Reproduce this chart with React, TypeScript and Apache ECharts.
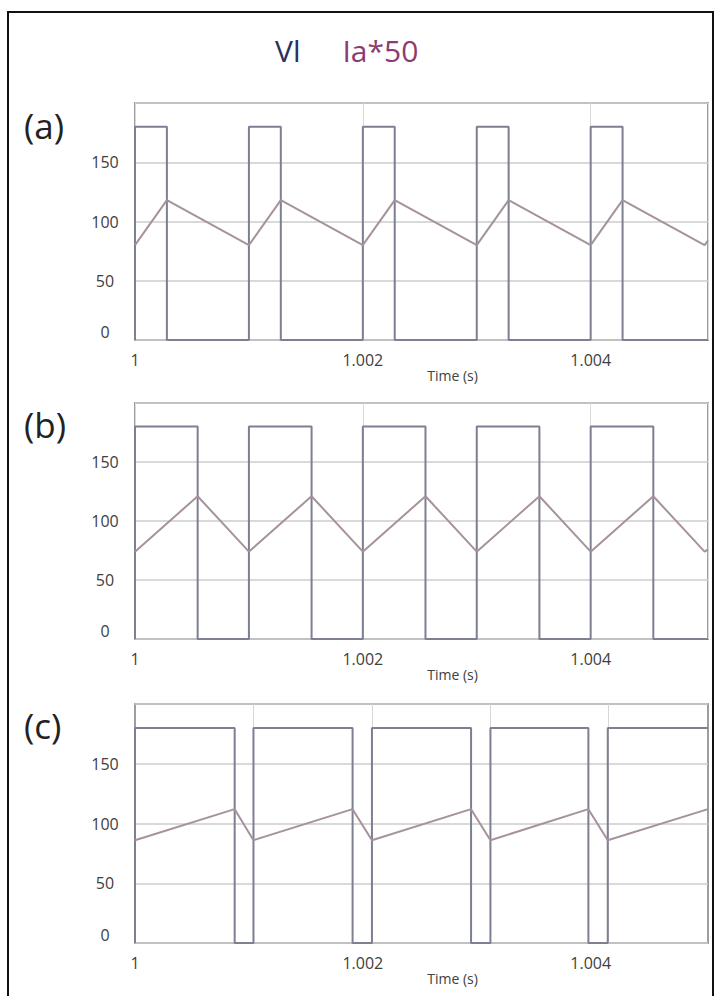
import React, { useEffect, useRef } from "react";
import * as echarts from "echarts";

// ---- Data (times in ms after t = 1 s) ----
const T_END = 5.03;
const VL_HIGH = 180;

// Panel (a)
const A_RISE = [0, 1, 2, 3, 4];
const A_FALL = [0.28, 1.28, 2.28, 3.28, 4.28];
const A_IA_T = [0, 0.28, 1, 1.28, 2, 2.28, 3, 3.28, 4, 4.28, 5, 5.03];
const A_IA_V = [80, 118, 80, 118, 80, 118, 80, 118, 80, 118, 80, 84];

// Panel (b)
const B_RISE = [0, 1, 2, 3, 4];
const B_FALL = [0.55, 1.55, 2.55, 3.55, 4.55];
const B_IA_T = [0, 0.55, 1, 1.55, 2, 2.55, 3, 3.55, 4, 4.55, 5, 5.03];
const B_IA_V = [74, 121, 74, 121, 74, 121, 74, 121, 74, 121, 74, 76];

// Panel (c)
const C_RISE = [0, 1.04, 2.08, 3.12, 4.15];
const C_FALL = [0.875, 1.91, 2.95, 3.98];
const C_IA_T = [0, 0.875, 1.04, 1.91, 2.08, 2.95, 3.12, 3.98, 4.15, 5.03];
const C_IA_V = [86, 112, 86, 112, 86, 112, 86, 112, 86, 112];

const Y_TICKS = [0, 50, 100, 150];
const X_TICK_LABELS: Record<number, string> = { 0: "1", 2: "1.002", 4: "1.004" };
const PANEL_LABELS = ["(a)", "(b)", "(c)"];
const SERIES_NAMES = ["Vl", "Ia*50"];

function squareWave(rises: number[], falls: number[], high: number, end: number) {
  const pts: number[][] = [];
  rises.forEach((r, i) => {
    pts.push([r, 0], [r, high]);
    if (i < falls.length) {
      pts.push([falls[i], high], [falls[i], 0]);
    } else {
      pts.push([end, high]);
    }
  });
  if (falls.length >= rises.length) pts.push([end, 0]);
  return pts;
}

function zip(t: number[], v: number[]) {
  return t.map((x, i) => [x, v[i]]);
}

const FONT = "Open Sans";
const VL_COLOR = "#7d7f93";
const IA_COLOR = "#a6929d";

export default function App() {
  const ref = useRef<HTMLDivElement>(null);

  useEffect(() => {
    if (!ref.current) return;
    const chart = echarts.init(ref.current, null, { renderer: "svg" });

    const grids = [
      { top: 103, height: 237 },
      { top: 403, height: 236 },
      { top: 704, height: 239 },
    ];

    const panels = [
      { vl: squareWave(A_RISE, A_FALL, VL_HIGH, T_END), ia: zip(A_IA_T, A_IA_V) },
      { vl: squareWave(B_RISE, B_FALL, VL_HIGH, T_END), ia: zip(B_IA_T, B_IA_V) },
      { vl: squareWave(C_RISE, C_FALL, VL_HIGH, T_END), ia: zip(C_IA_T, C_IA_V) },
    ];

    const series: any[] = [];
    panels.forEach((p, i) => {
      const vlSeries: any = {
        name: SERIES_NAMES[0],
        type: "line",
        xAxisIndex: i,
        yAxisIndex: i,
        data: p.vl,
        showSymbol: false,
        symbol: "none",
        lineStyle: { color: VL_COLOR, width: 2 },
        itemStyle: { color: VL_COLOR },
        z: 3,
      };
      if (i === 2) {
        vlSeries.markLine = {
          silent: true,
          symbol: "none",
          label: { show: false },
          lineStyle: { color: "#d6d6d6", width: 1, type: "solid" },
          data: C_RISE.slice(1).map((x) => ({ xAxis: x })),
          z: 1,
        };
      }
      series.push(vlSeries);
      series.push({
        name: SERIES_NAMES[1],
        type: "line",
        xAxisIndex: i,
        yAxisIndex: i,
        data: p.ia,
        showSymbol: false,
        symbol: "none",
        lineStyle: { color: IA_COLOR, width: 2 },
        itemStyle: { color: IA_COLOR },
        z: 4,
      });
    });

    const option: any = {
      animation: false,
      backgroundColor: "#ffffff",
      textStyle: { fontFamily: FONT },
      legend: {
        data: [
          { name: SERIES_NAMES[0], textStyle: { color: "#2e3060" } },
          { name: SERIES_NAMES[1], textStyle: { color: "#8c3b6e" } },
        ],
        left: 264,
        top: 30,
        itemWidth: 0,
        itemHeight: 0,
        itemGap: 36,
        selectedMode: false,
        textStyle: { fontSize: 30, fontFamily: FONT },
      },
      grid: grids.map((g) => ({
        left: 135,
        width: 573,
        top: g.top,
        height: g.height,
        show: true,
        borderColor: "#9e9e9e",
        borderWidth: 2,
        backgroundColor: "#ffffff",
      })),
      xAxis: grids.map((_, i) => ({
        type: "value",
        gridIndex: i,
        min: 0,
        max: T_END,
        interval: 2,
        axisLine: { show: false },
        axisTick: { show: false },
        splitLine: { show: i < 2, lineStyle: { color: "#dadada", width: 1 } },
        axisLabel: {
          margin: 12,
          fontSize: 16,
          color: "#404040",
          fontFamily: FONT,
          formatter: (v: number) => X_TICK_LABELS[Math.round(v)] ?? "",
        },
        name: "Time (s)",
        nameLocation: "middle",
        nameGap: 25,
        nameTextStyle: {
          fontSize: 14,
          color: "#404040",
          fontFamily: FONT,
          padding: [0, 0, 0, 62],
        },
      })),
      yAxis: grids.map((_, i) => ({
        type: "value",
        gridIndex: i,
        min: 0,
        max: 200,
        interval: 50,
        axisLine: { show: false },
        axisTick: { show: false },
        splitLine: { lineStyle: { color: "#cccccc", width: 1.5 } },
        axisLabel: {
          margin: 30,
          align: "center",
          fontSize: 16,
          color: "#404040",
          fontFamily: FONT,
          formatter: (v: number) =>
            Y_TICKS.indexOf(v) < 0 ? "" : v === 0 ? "{z|0}" : String(v),
          rich: {
            z: { padding: [0, 0, 16, 0], fontSize: 16, color: "#404040", fontFamily: FONT },
          },
        },
      })),
      series,
      graphic: [
        {
          type: "rect",
          shape: { x: 8, y: 12, width: 705, height: 1000 },
          style: { fill: "none", stroke: "#111111", lineWidth: 2 },
          silent: true,
          z: 100,
        },
        ...PANEL_LABELS.map((t, i) => ({
          type: "text",
          left: 24,
          top: [108, 407, 708][i],
          style: { text: t, fontSize: 35, fill: "#222222", fontFamily: FONT },
          silent: true,
        })),
      ],
    };

    chart.setOption(option);
    return () => chart.dispose();
  }, []);

  return (
    <div
      ref={ref}
      style={{ position: "absolute", left: 0, top: 0, width: 716, height: 996, background: "#fff" }}
    />
  );
}
